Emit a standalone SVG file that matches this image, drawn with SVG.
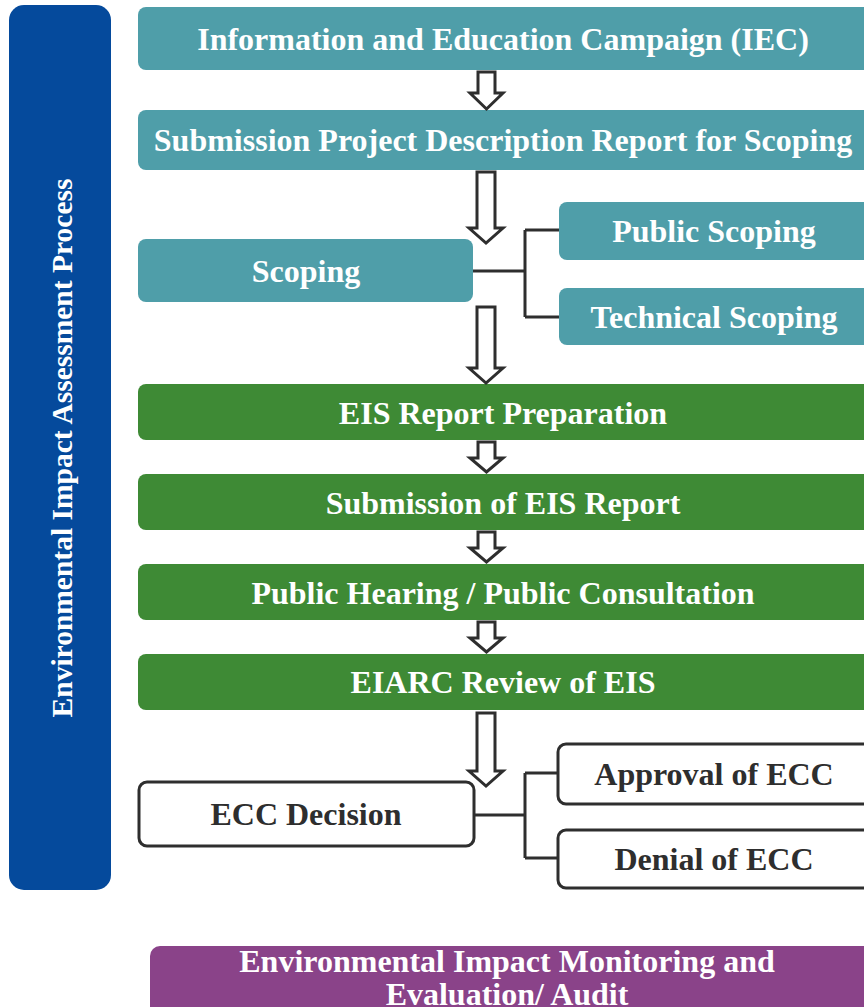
<svg xmlns="http://www.w3.org/2000/svg" width="864" height="1007" viewBox="0 0 864 1007">
<defs>
<style>
.t{font-family:"Liberation Serif","Times New Roman",serif;font-weight:bold;font-size:32px;text-anchor:middle;dominant-baseline:central}
.w{fill:#ffffff}
.d{fill:#2e2e2e}
.teal{fill:#4f9ea9}
.green{fill:#3e8a35}
.wb{fill:#ffffff;stroke:#2e2e2e;stroke-width:3}
.arr{fill:#ffffff;stroke:#2e2e2e;stroke-width:3;stroke-linejoin:miter}
.ln{fill:none;stroke:#2e2e2e;stroke-width:3}
</style>
</defs>
<g id="side">
<rect x="9" y="5" width="102" height="885" rx="15" fill="#054a9c"/>
<text class="t w" style="font-size:29.5px" transform="translate(62 448) rotate(-90)">Environmental Impact Assessment Process</text>
</g>
<g id="iec">
<rect class="teal" x="138" y="7" width="740" height="63" rx="8"/>
<text class="t w" x="503" y="39">Information and Education Campaign (IEC)</text>
</g>
<g id="submission-pdr">
<rect class="teal" x="138" y="110" width="740" height="60" rx="8"/>
<text class="t w" x="503" y="140">Submission Project Description Report for Scoping</text>
</g>
<g id="scoping">
<rect class="teal" x="138" y="239" width="335" height="63" rx="8"/>
<text class="t w" x="306" y="271">Scoping</text>
</g>
<g id="public-scoping">
<rect class="teal" x="559" y="202" width="319" height="58" rx="8"/>
<text class="t w" x="714" y="231">Public Scoping</text>
</g>
<g id="technical-scoping">
<rect class="teal" x="559" y="288" width="319" height="57" rx="8"/>
<text class="t w" x="714" y="317">Technical Scoping</text>
</g>
<g id="eis-prep">
<rect class="green" x="138" y="384" width="740" height="56" rx="8"/>
<text class="t w" x="503" y="413">EIS Report Preparation</text>
</g>
<g id="eis-submit">
<rect class="green" x="138" y="474" width="740" height="56" rx="8"/>
<text class="t w" x="503" y="503">Submission of EIS Report</text>
</g>
<g id="hearing">
<rect class="green" x="138" y="564" width="740" height="56" rx="8"/>
<text class="t w" x="503" y="593">Public Hearing / Public Consultation</text>
</g>
<g id="eiarc">
<rect class="green" x="138" y="654" width="740" height="56" rx="8"/>
<text class="t w" x="503" y="682">EIARC Review of EIS</text>
</g>
<g id="ecc-decision">
<rect class="wb" x="139" y="782" width="335" height="64" rx="8"/>
<text class="t d" x="306" y="814">ECC Decision</text>
</g>
<g id="approval">
<rect class="wb" x="558" y="744" width="320" height="60" rx="8"/>
<text class="t d" x="714" y="774">Approval of ECC</text>
</g>
<g id="denial">
<rect class="wb" x="558" y="830" width="320" height="58" rx="8"/>
<text class="t d" x="714" y="859">Denial of ECC</text>
</g>
<g id="monitoring">
<rect x="150" y="946" width="728" height="75" rx="10" fill="#8a4389"/>
<text class="t w" x="507" y="961">Environmental Impact Monitoring and</text>
<text class="t w" x="507" y="994">Evaluation/ Audit</text>
</g>
<g id="connectors">
<path class="arr" d="M478 72 H495 V93 H503 L486.5 109 L470 93 H478 Z"/>
<path class="arr" d="M477 172 H495 V228 H503 L486 243 L469 228 H477 Z"/>
<path class="arr" d="M477 307 H495 V368 H503 L486 383 L469 368 H477 Z"/>
<path class="arr" d="M478 442 H495 V458 H503 L486.5 472 L470 458 H478 Z"/>
<path class="arr" d="M478 532 H495 V548 H503 L486.5 562 L470 548 H478 Z"/>
<path class="arr" d="M478 622 H495 V638 H503 L486.5 652 L470 638 H478 Z"/>
<path class="arr" d="M477 713 H495 V771 H503 L486 786 L469 771 H477 Z"/>
<path class="ln" d="M473 271 H525 M525 230 V317 M525 230 H559 M525 317 H559"/>
<path class="ln" d="M474 815 H525 M525 773 V858 M525 773 H558 M525 858 H558"/>
</g>
</svg>
